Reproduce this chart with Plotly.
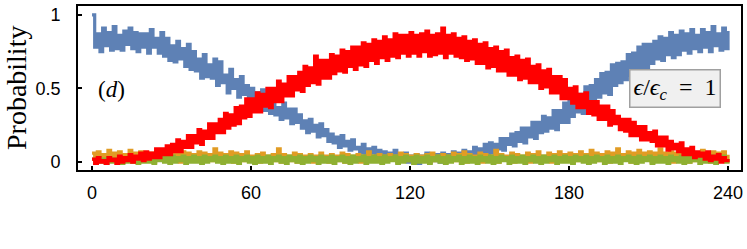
import plotly.graph_objects as go

# time axis (integer samples 0..240)
t = list(range(0, 241))

blue = [
    1.00, 0.78, 0.87, 0.75, 0.91, 0.79, 0.88, 0.76, 0.92, 0.77,
    0.86, 0.76, 0.89, 0.80, 0.91, 0.77, 0.88, 0.75, 0.87, 0.78,
    0.87, 0.74, 0.90, 0.78, 0.84, 0.74, 0.88, 0.72, 0.84, 0.69,
    0.79, 0.68, 0.82, 0.70, 0.77, 0.65, 0.80, 0.63, 0.75, 0.62,
    0.70, 0.57, 0.73, 0.58, 0.66, 0.57, 0.70, 0.52, 0.68, 0.54,
    0.59, 0.47, 0.63, 0.50, 0.56, 0.44, 0.58, 0.46, 0.52, 0.41,
    0.50, 0.37, 0.47, 0.40, 0.49, 0.35, 0.44, 0.33, 0.45, 0.32,
    0.37, 0.29, 0.40, 0.30, 0.36, 0.26, 0.36, 0.27, 0.32, 0.23,
    0.28, 0.20, 0.29, 0.21, 0.25, 0.17, 0.26, 0.18, 0.22, 0.14,
    0.19, 0.13, 0.17, 0.10, 0.18, 0.11, 0.14, 0.08, 0.15, 0.09,
    0.10, 0.06, 0.12, 0.04, 0.09, 0.06, 0.10, 0.03, 0.08, 0.04,
    0.07, 0.02, 0.06, 0.03, 0.08, 0.01, 0.05, 0.02, 0.06, 0.00,
    0.04, 0.01, 0.05, -0.01, 0.04, 0.01, 0.06, 0.00, 0.04, 0.01,
    0.05, 0.00, 0.06, 0.02, 0.05, 0.01, 0.07, 0.02, 0.06, 0.03,
    0.08, 0.02, 0.07, 0.04, 0.10, 0.03, 0.09, 0.06, 0.12, 0.05,
    0.13, 0.06, 0.12, 0.09, 0.16, 0.08, 0.16, 0.12, 0.19, 0.11,
    0.20, 0.14, 0.23, 0.13, 0.23, 0.17, 0.27, 0.16, 0.27, 0.20,
    0.31, 0.21, 0.30, 0.23, 0.35, 0.22, 0.35, 0.27, 0.40, 0.27,
    0.41, 0.31, 0.45, 0.34, 0.46, 0.33, 0.51, 0.39, 0.52, 0.40,
    0.56, 0.44, 0.60, 0.47, 0.61, 0.46, 0.66, 0.52, 0.67, 0.54,
    0.68, 0.56, 0.73, 0.59, 0.74, 0.61, 0.78, 0.63, 0.80, 0.64,
    0.80, 0.67, 0.82, 0.70, 0.85, 0.69, 0.84, 0.73, 0.88, 0.71,
    0.86, 0.73, 0.89, 0.76, 0.87, 0.74, 0.90, 0.77, 0.86, 0.75,
    0.90, 0.78, 0.88, 0.75, 0.92, 0.79, 0.87, 0.76, 0.91, 0.77,
    0.89,
]

red = [
    0.02, -0.01, 0.03, 0.00, 0.01, -0.01, 0.03, 0.01, 0.02, -0.01,
    0.04, 0.00, 0.03, 0.01, 0.05, 0.00, 0.04, 0.02, 0.06, 0.01,
    0.07, 0.02, 0.06, 0.03, 0.09, 0.03, 0.09, 0.05, 0.11, 0.05,
    0.12, 0.07, 0.15, 0.07, 0.14, 0.10, 0.18, 0.10, 0.18, 0.13,
    0.22, 0.12, 0.21, 0.16, 0.26, 0.16, 0.26, 0.20, 0.29, 0.20,
    0.33, 0.23, 0.32, 0.25, 0.37, 0.26, 0.38, 0.30, 0.43, 0.31,
    0.43, 0.34, 0.47, 0.34, 0.46, 0.38, 0.50, 0.37, 0.50, 0.41,
    0.55, 0.41, 0.53, 0.45, 0.58, 0.45, 0.58, 0.49, 0.61, 0.48,
    0.65, 0.52, 0.64, 0.54, 0.72, 0.53, 0.69, 0.57, 0.69, 0.57,
    0.73, 0.60, 0.72, 0.62, 0.76, 0.61, 0.75, 0.65, 0.78, 0.63,
    0.78, 0.66, 0.81, 0.65, 0.80, 0.69, 0.83, 0.67, 0.82, 0.71,
    0.85, 0.69, 0.83, 0.72, 0.87, 0.71, 0.86, 0.74, 0.86, 0.72,
    0.88, 0.74, 0.86, 0.72, 0.87, 0.75, 0.89, 0.72, 0.86, 0.73,
    0.87, 0.74, 0.91, 0.71, 0.86, 0.74, 0.87, 0.72, 0.84, 0.71,
    0.85, 0.69, 0.82, 0.70, 0.83, 0.67, 0.80, 0.67, 0.81, 0.64,
    0.77, 0.65, 0.78, 0.62, 0.75, 0.62, 0.76, 0.59, 0.71, 0.59,
    0.72, 0.56, 0.69, 0.57, 0.70, 0.54, 0.65, 0.54, 0.66, 0.50,
    0.62, 0.51, 0.63, 0.47, 0.58, 0.47, 0.58, 0.43, 0.56, 0.43,
    0.50, 0.40, 0.51, 0.37, 0.46, 0.37, 0.47, 0.33, 0.41, 0.32,
    0.41, 0.29, 0.38, 0.29, 0.38, 0.25, 0.35, 0.26, 0.31, 0.22,
    0.29, 0.21, 0.29, 0.18, 0.27, 0.18, 0.24, 0.15, 0.24, 0.15,
    0.20, 0.14, 0.21, 0.11, 0.17, 0.11, 0.17, 0.08, 0.14, 0.09,
    0.12, 0.07, 0.13, 0.05, 0.09, 0.05, 0.10, 0.03, 0.07, 0.04,
    0.06, 0.02, 0.07, 0.01, 0.04, 0.02, 0.05, 0.00, 0.03, 0.01,
    0.02,
]

orange = [
    0.06, 0.01, 0.07, 0.02, 0.05, 0.00, 0.08, 0.01, 0.06, 0.02,
    0.07, 0.01, 0.05, 0.02, 0.08, 0.00, 0.06, 0.01, 0.07, 0.02,
    0.05, 0.01, 0.06, 0.00, 0.07, 0.02, 0.05, 0.01, 0.08, 0.01,
    0.06, 0.02, 0.05, 0.00, 0.07, 0.01, 0.06, 0.02, 0.05, 0.01,
    0.07, 0.00, 0.06, 0.02, 0.05, 0.01, 0.09, 0.01, 0.06, 0.02,
    0.05, 0.01, 0.07, 0.00, 0.06, 0.02, 0.05, 0.01, 0.07, 0.01,
    0.04, 0.01, 0.05, 0.00, 0.06, 0.02, 0.04, 0.01, 0.05, 0.01,
    0.09, 0.00, 0.05, 0.02, 0.04, 0.01, 0.06, 0.00, 0.05, 0.02,
    0.04, 0.01, 0.05, 0.00, 0.04, 0.02, 0.06, 0.01, 0.04, 0.00,
    0.05, 0.02, 0.04, 0.01, 0.06, 0.00, 0.05, 0.01, 0.04, 0.02,
    0.05, 0.00, 0.04, 0.01, 0.07, 0.01, 0.04, 0.02, 0.05, 0.00,
    0.04, 0.01, 0.05, 0.02, 0.04, 0.00, 0.06, 0.01, 0.05, 0.01,
    0.04, 0.00, 0.05, 0.02, 0.04, 0.01, 0.05, 0.00, 0.06, 0.01,
    0.04, 0.02, 0.05, 0.00, 0.04, 0.01, 0.06, 0.01, 0.05, 0.02,
    0.07, 0.00, 0.05, 0.01, 0.04, 0.02, 0.06, 0.00, 0.05, 0.01,
    0.04, 0.01, 0.08, 0.00, 0.05, 0.02, 0.04, 0.01, 0.06, 0.00,
    0.05, 0.01, 0.04, 0.02, 0.06, 0.00, 0.05, 0.01, 0.07, 0.01,
    0.04, 0.02, 0.06, 0.00, 0.05, 0.01, 0.07, 0.01, 0.05, 0.02,
    0.06, 0.00, 0.05, 0.01, 0.07, 0.02, 0.05, 0.00, 0.08, 0.01,
    0.06, 0.01, 0.05, 0.02, 0.07, 0.00, 0.06, 0.01, 0.09, 0.01,
    0.05, 0.02, 0.07, 0.00, 0.06, 0.01, 0.08, 0.01, 0.06, 0.02,
    0.07, 0.00, 0.06, 0.01, 0.09, 0.01, 0.06, 0.02, 0.07, 0.00,
    0.06, 0.01, 0.08, 0.02, 0.06, 0.00, 0.07, 0.01, 0.06, 0.01,
    0.08, 0.02, 0.06, 0.00, 0.07, 0.01, 0.06, 0.02, 0.07, 0.01,
    0.05,
]

green = [
    0.02, -0.01, 0.03, 0.00, 0.02, -0.01, 0.03, 0.00, 0.02, 0.00,
    0.03, -0.01, 0.02, 0.00, 0.04, 0.00, 0.02, -0.01, 0.03, 0.00,
    0.03, 0.00, 0.04, -0.01, 0.03, 0.01, 0.04, 0.00, 0.03, -0.01,
    0.04, 0.00, 0.03, 0.01, 0.04, -0.01, 0.03, 0.00, 0.04, 0.00,
    0.03, -0.01, 0.04, 0.00, 0.03, 0.01, 0.04, 0.00, 0.03, -0.01,
    0.04, 0.00, 0.03, 0.00, 0.04, -0.01, 0.03, 0.01, 0.04, 0.00,
    0.03, -0.01, 0.04, 0.00, 0.03, 0.00, 0.04, -0.01, 0.03, 0.01,
    0.04, 0.00, 0.03, -0.01, 0.04, 0.01, 0.03, 0.00, 0.04, -0.01,
    0.03, 0.00, 0.04, 0.01, 0.03, -0.01, 0.04, 0.00, 0.03, 0.00,
    0.04, -0.01, 0.03, 0.01, 0.04, 0.00, 0.03, -0.01, 0.04, 0.00,
    0.03, 0.01, 0.04, -0.01, 0.03, 0.00, 0.04, 0.00, 0.03, -0.01,
    0.04, 0.00, 0.03, 0.01, 0.04, -0.01, 0.03, 0.00, 0.04, 0.01,
    0.03, -0.01, 0.04, 0.00, 0.03, 0.00, 0.04, -0.01, 0.03, 0.01,
    0.04, 0.00, 0.03, -0.01, 0.04, 0.00, 0.03, 0.01, 0.04, -0.01,
    0.03, 0.00, 0.04, 0.00, 0.03, -0.01, 0.04, 0.01, 0.03, 0.00,
    0.04, -0.01, 0.03, 0.00, 0.04, 0.01, 0.03, -0.01, 0.04, 0.00,
    0.03, 0.00, 0.04, -0.01, 0.03, 0.01, 0.04, 0.00, 0.03, -0.01,
    0.04, 0.00, 0.03, 0.01, 0.04, -0.01, 0.03, 0.00, 0.04, 0.00,
    0.03, -0.01, 0.04, 0.01, 0.03, 0.00, 0.04, -0.01, 0.03, 0.00,
    0.04, 0.01, 0.03, -0.01, 0.04, 0.00, 0.03, 0.00, 0.04, -0.01,
    0.03, 0.01, 0.04, 0.00, 0.03, -0.01, 0.04, 0.00, 0.03, 0.01,
    0.04, -0.01, 0.03, 0.00, 0.04, 0.00, 0.03, -0.01, 0.04, 0.01,
    0.03, 0.00, 0.04, -0.01, 0.03, 0.00, 0.04, 0.01, 0.03, -0.01,
    0.04, 0.00, 0.03, 0.00, 0.04, -0.01, 0.03, 0.01, 0.04, 0.00,
    0.02,
]

x_ticks = [0, 60, 120, 180, 240]
x_tick_labels = ["0", "60", "120", "180", "240"]
y_ticks = [0, 0.5, 1]
y_tick_labels = ["0", "0.5", "1"]

series = [
    ("blue", blue, "#5E81B5"),
    ("orange", orange, "#E19C24"),
    ("green", green, "#8FB032"),
    ("red", red, "#FF0000"),
]

fig = go.Figure()
for name, vals, col in series:
    fig.add_trace(go.Scatter(
        x=t, y=vals, mode="lines", name=name,
        line=dict(color=col, width=3.2, shape="hv"),
        showlegend=False, hoverinfo="skip",
    ))

SERIF = "Liberation Serif, Times New Roman, serif"

fig.update_layout(
    width=747, height=249,
    margin=dict(l=78, r=6, t=4, b=79),
    paper_bgcolor="white", plot_bgcolor="white",
    font=dict(family="Liberation Sans, Arial, sans-serif", size=18, color="black"),
)
fig.update_xaxes(
    range=[-5.3, 244.9], tickvals=x_ticks, ticktext=x_tick_labels,
    ticks="inside", ticklen=4, tickwidth=1.5, tickcolor="black",
    showline=True, linecolor="black", linewidth=1.8, mirror=True,
    showgrid=False, zeroline=False, ticklabelstandoff=5,
)
fig.update_yaxes(
    range=[-0.054, 1.06], tickvals=y_ticks, ticktext=y_tick_labels,
    ticks="inside", ticklen=4, tickwidth=1.5, tickcolor="black",
    showline=True, linecolor="black", linewidth=1.8, mirror=True,
    showgrid=False, zeroline=False, ticklabelstandoff=12,
)

fig.add_annotation(
    xref="paper", yref="paper", x=-0.0935, y=0.5,
    text="Probability", textangle=-90, showarrow=False,
    font=dict(family=SERIF, size=28, color="black"),
    xanchor="center", yanchor="middle",
)
fig.add_annotation(
    x=7.5, y=0.49, text="(<i>d</i>)", showarrow=False,
    font=dict(family=SERIF, size=23, color="black"),
    xanchor="center", yanchor="middle",
)
fig.add_annotation(
    x=220, y=0.5,
    text="<i>ϵ</i>/<i>ϵ</i><sub><i>c</i></sub>&nbsp;&nbsp;=&nbsp;&nbsp;1",
    showarrow=False,
    font=dict(family=SERIF, size=24, color="black"),
    bgcolor="#F0F0F0", bordercolor="#A0A0A0", borderwidth=1.5, borderpad=3,
    xanchor="center", yanchor="middle",
)

fig.write_html(
    "out.html",
    config={"displayModeBar": False},
    post_script="document.body.style.margin='0';document.body.style.padding='0';",
)
